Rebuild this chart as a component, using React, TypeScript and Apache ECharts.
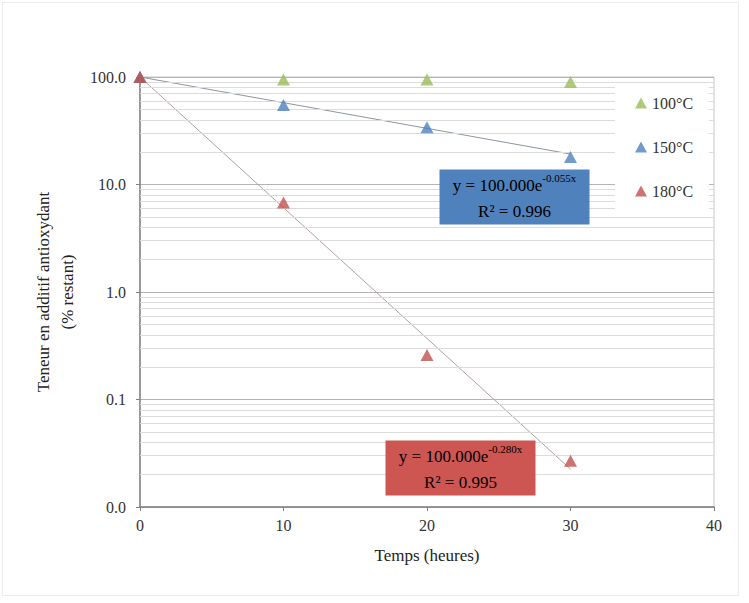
import React, { useEffect, useRef } from "react";
import * as echarts from "echarts";

const hours = [0, 10, 20, 30];
const s100 = [100, 95, 95, 90];
const s150 = [100, 55, 34, 18];
const s180 = [100, 6.8, 0.26, 0.027];
const trend150 = [[0, 100], [30, 19.2]];
const trend180 = [[0, 100], [30, 0.0225]];
const decades = [0.01, 0.1, 1, 10];
const minorSteps = [2, 3, 4, 5, 6, 7, 8, 9];
const legendNames = ["100°C", "150°C", "180°C"];
const colors = ["#9BBB59", "#4F81BD", "#C0504D"];

const FONT = "Liberation Serif";

export default function App() {
  const ref = useRef<HTMLDivElement>(null);
  useEffect(() => {
    if (!ref.current) return;
    const chart = echarts.init(ref.current, null, { renderer: "svg" });
    const minorValues: number[] = [];
    decades.forEach((d) => minorSteps.forEach((k) => minorValues.push(+(d * k).toPrecision(3))));
    const pts = (vals: number[]) => hours.map((h, i) => [h, vals[i]]);
    const option: any = {
      animation: false,
      backgroundColor: "#fff",
      textStyle: { fontFamily: FONT },
      grid: { left: 140, right: 35, top: 77, bottom: 96, show: true, borderColor: "#c8c8c8", borderWidth: 1 },
      legend: {
        data: legendNames,
        orient: "vertical",
        left: 615,
        top: 85,
        z: 20,
        padding: [10, 16, 14, 20],
        backgroundColor: "#ffffff",
        itemWidth: 12,
        itemHeight: 11,
        itemGap: 28,
        icon: "triangle",
        textStyle: { fontFamily: FONT, fontSize: 16, color: "#333", lineHeight: 16 },
      },
      xAxis: {
        type: "value",
        min: 0,
        max: 40,
        interval: 10,
        name: "Temps (heures)",
        nameLocation: "middle",
        nameGap: 40,
        nameTextStyle: { fontFamily: FONT, fontSize: 17, color: "#222" },
        axisLine: { lineStyle: { color: "#808080", width: 1.5 } },
        axisTick: { show: true, length: 4, lineStyle: { color: "#808080" } },
        axisLabel: { fontFamily: FONT, fontSize: 16, color: "#333", margin: 10 },
        splitLine: { show: false },
      },
      yAxis: {
        type: "log",
        logBase: 10,
        min: 0.01,
        max: 100,
        name: "Teneur en additif antioxydant\n(% restant)",
        nameLocation: "middle",
        nameRotate: 90,
        nameGap: 52,
        nameTextStyle: { fontFamily: FONT, fontSize: 17, color: "#222", lineHeight: 24 },
        axisLine: { show: true, lineStyle: { color: "#808080", width: 1.5 } },
        axisTick: { show: true, length: 4, lineStyle: { color: "#808080" } },
        axisLabel: {
          fontFamily: FONT,
          fontSize: 16,
          color: "#333",
          margin: 14,
          formatter: (v: number) => v.toFixed(1),
        },
        splitLine: { show: true, lineStyle: { color: "#b4b4b4", width: 1 } },
      },
      series: [
        {
          name: "minor",
          type: "line",
          data: [],
          silent: true,
          z: 1,
          markLine: {
            silent: true,
            symbol: ["none", "none"],
            label: { show: false },
            lineStyle: { color: "#dcdcdc", width: 1, type: "solid" },
            data: minorValues.map((v) => ({ yAxis: v })),
          },
        },
        {
          name: "trend150",
          type: "line",
          data: trend150,
          showSymbol: false,
          symbol: "none",
          lineStyle: { color: "#8c96a0", width: 1 },
          z: 2,
        },
        {
          name: "trend180",
          type: "line",
          data: trend180,
          showSymbol: false,
          symbol: "none",
          lineStyle: { color: "#b0a0a4", width: 1 },
          z: 2,
        },
        ...legendNames.map((n, i) => ({
          name: n,
          type: "scatter",
          data: pts([s100, s150, s180][i]),
          symbol: "triangle",
          symbolSize: [13, 12],
          itemStyle: { color: colors[i] },
          z: 5,
        })),
      ],
      graphic: [
        {
          type: "group",
          left: 0,
          top: 0,
          children: [
            { type: "rect", shape: { x: 6, y: 5, width: 736, height: 593 }, style: { fill: "none", stroke: "#ececec", lineWidth: 1 } },
            { type: "rect", z: 10, shape: { x: 443, y: 172, width: 150, height: 55 }, style: { fill: "#4F81BD" } },
            {
              type: "text",
              z: 11,
              x: 518,
              y: 175,
              style: {
                text: "{b|y = 100.000e}{s|-0.055x}\n{b|R² = 0.996}",
                textAlign: "center",
                rich: {
                  b: { fontFamily: FONT, fontSize: 17, color: "#1c1c28", lineHeight: 26 },
                  s: { fontFamily: FONT, fontSize: 11, color: "#1c1c28", verticalAlign: "top", lineHeight: 26, padding: [0, 0, 8, 0] },
                },
              },
            },
            { type: "rect", z: 10, shape: { x: 389, y: 443, width: 150, height: 55 }, style: { fill: "#CD5552" } },
            {
              type: "text",
              z: 11,
              x: 464,
              y: 446,
              style: {
                text: "{b|y = 100.000e}{s|-0.280x}\n{b|R² = 0.995}",
                textAlign: "center",
                rich: {
                  b: { fontFamily: FONT, fontSize: 17, color: "#2a1414", lineHeight: 26 },
                  s: { fontFamily: FONT, fontSize: 11, color: "#2a1414", verticalAlign: "top", lineHeight: 26, padding: [0, 0, 8, 0] },
                },
              },
            },
          ],
        },
      ],
    };
    chart.setOption(option);
    return () => chart.dispose();
  }, []);
  return <div ref={ref} style={{ width: 749, height: 603, position: "absolute", left: 0, top: 0 }} />;
}
